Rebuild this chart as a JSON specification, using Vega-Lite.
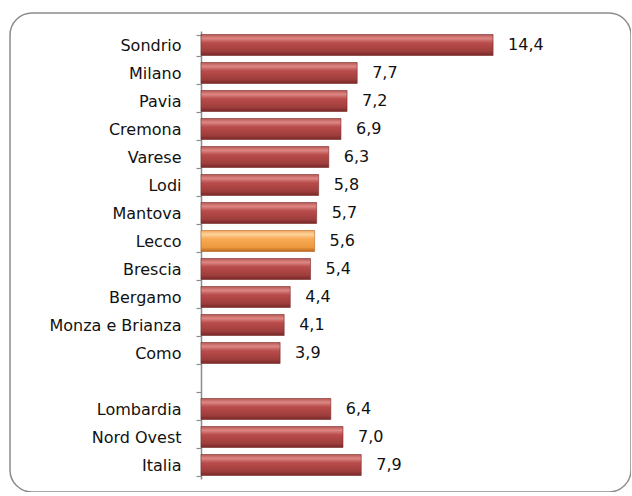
{
  "$schema": "https://vega.github.io/schema/vega-lite/v6.json",
  "autosize": {"type": "none"},
  "width": 621,
  "height": 479,
  "padding": {"left": 10, "top": 13, "right": 0, "bottom": 0},
  "background": "white",
  "config": {
    "view": {"stroke": "#8c8c8c", "strokeWidth": 1.5, "cornerRadius": 22},
    "font": "DejaVu Sans"
  },
  "data": {
    "values": [
      {"area": "Sondrio", "value": 14.4, "label": "14,4", "hl": "no"},
      {"area": "Milano", "value": 7.7, "label": "7,7", "hl": "no"},
      {"area": "Pavia", "value": 7.2, "label": "7,2", "hl": "no"},
      {"area": "Cremona", "value": 6.9, "label": "6,9", "hl": "no"},
      {"area": "Varese", "value": 6.3, "label": "6,3", "hl": "no"},
      {"area": "Lodi", "value": 5.8, "label": "5,8", "hl": "no"},
      {"area": "Mantova", "value": 5.7, "label": "5,7", "hl": "no"},
      {"area": "Lecco", "value": 5.6, "label": "5,6", "hl": "yes"},
      {"area": "Brescia", "value": 5.4, "label": "5,4", "hl": "no"},
      {"area": "Bergamo", "value": 4.4, "label": "4,4", "hl": "no"},
      {"area": "Monza e Brianza", "value": 4.1, "label": "4,1", "hl": "no"},
      {"area": "Como", "value": 3.9, "label": "3,9", "hl": "no"},
      {"area": "Lombardia", "value": 6.4, "label": "6,4", "hl": "no"},
      {"area": "Nord Ovest", "value": 7.0, "label": "7,0", "hl": "no"},
      {"area": "Italia", "value": 7.9, "label": "7,9", "hl": "no"}
    ]
  },
  "encoding": {
    "y": {
      "field": "area",
      "type": "nominal",
      "title": null,
      "scale": {
        "domain": ["Sondrio", "Milano", "Pavia", "Cremona", "Varese", "Lodi", "Mantova", "Lecco", "Brescia", "Bergamo", "Monza e Brianza", "Como", " ", "Lombardia", "Nord Ovest", "Italia"],
        "range": [18, 466],
        "paddingInner": 0.25,
        "paddingOuter": 0.125
      },
      "axis": {
        "offset": -191,
        "tickBand": "extent",
        "domainColor": "#8c8c8c",
        "domainWidth": 1.5,
        "tickColor": "#8c8c8c",
        "tickWidth": 1.2,
        "tickSize": 5,
        "labelPadding": 15,
        "labelFont": "DejaVu Sans",
        "labelFontSize": 16,
        "labelColor": "#111111",
        "grid": false
      }
    },
    "x": {
      "field": "value",
      "type": "quantitative",
      "scale": {"domain": [-9.418, 21.2], "nice": false, "zero": false},
      "axis": null
    }
  },
  "layer": [
    {
      "mark": {"type": "bar", "stroke": "#7a2a2a", "strokeWidth": 0.6},
      "encoding": {
        "x2": {"datum": 0},
        "fill": {
          "condition": {
            "test": "datum.hl === 'yes'",
            "value": {
              "gradient": "linear", "x1": 0, "y1": 0, "x2": 0, "y2": 1,
              "stops": [
                {"offset": 0, "color": "#f2a55a"},
                {"offset": 0.18, "color": "#fdd39c"},
                {"offset": 0.4, "color": "#f7aa55"},
                {"offset": 0.8, "color": "#ee9a3e"},
                {"offset": 1, "color": "#b9661f"}
              ]
            }
          },
          "value": {
            "gradient": "linear", "x1": 0, "y1": 0, "x2": 0, "y2": 1,
            "stops": [
              {"offset": 0, "color": "#b85553"},
              {"offset": 0.18, "color": "#dc8885"},
              {"offset": 0.4, "color": "#b94c4b"},
              {"offset": 0.8, "color": "#9f3d3d"},
              {"offset": 1, "color": "#772828"}
            ]
          }
        },
        "stroke": {
          "condition": {"test": "datum.hl === 'yes'", "value": "#b9661f"},
          "value": "#7a2a2a"
        }
      }
    },
    {
      "mark": {"type": "text", "align": "left", "baseline": "middle", "dx": 15, "fontSize": 16, "font": "DejaVu Sans", "color": "#111111"},
      "encoding": {
        "text": {"field": "label"}
      }
    }
  ]
}
